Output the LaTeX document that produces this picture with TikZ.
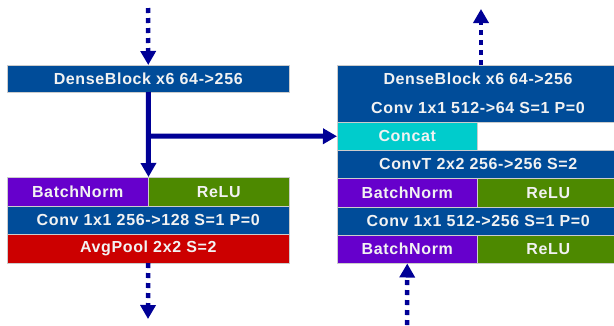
\documentclass[tikz,border=0pt]{standalone}
\usepackage{fontspec}
\setmainfont{Liberation Sans}[LetterSpace=4]
\usetikzlibrary{arrows.meta}
\definecolor{dblue}{RGB}{0,76,153}
\definecolor{purp}{RGB}{102,0,204}
\definecolor{grn}{RGB}{77,137,0}
\definecolor{rd}{RGB}{204,0,0}
\definecolor{cyn}{RGB}{0,204,204}
\definecolor{navy}{RGB}{0,0,150}
\definecolor{txt}{RGB}{242,242,242}
\tikzset{
  cellfont/.style={text=txt, font=\bfseries\fontsize{16}{18}\selectfont},
  cell/.style={rectangle, anchor=north west, inner sep=0pt, draw=black!20, line width=0.5pt, cellfont},
  solidarrow/.style={draw=navy, line width=5pt, -{Triangle[width=15pt,length=14pt]}},
  dotarrow/.style={draw=navy, line width=4.5pt, dash pattern=on 5pt off 5pt, -{Triangle[width=15pt,length=14pt]}},
}
\begin{document}
\begin{tikzpicture}[x=1pt,y=-1pt]
\useasboundingbox (0,0) rectangle (614,325);
\begin{scope}
\clip (0,0) rectangle (614,325);
% left column
\node[cell, fill=dblue, minimum width=282pt, minimum height=26.5pt] (dense1) at (7,65) {DenseBlock x6 64->256};
\node[cell, fill=purp, minimum width=141pt, minimum height=29pt] (bn1) at (7,177) {BatchNorm};
\node[cell, fill=grn, minimum width=141pt, minimum height=29pt] (relu1) at (148,177) {ReLU};
\node[cell, fill=dblue, minimum width=282pt, minimum height=28pt] (conv1) at (7,206) {Conv 1x1 256->128 S=1 P=0};
\node[cell, fill=rd, minimum width=282pt, minimum height=28.5pt] (pool1) at (7,234) {AvgPool 2x2 S=2};
% right column
\node[cell, fill=dblue, minimum width=282pt, minimum height=57pt] (rtop) at (337,65) {};
\node[cellfont, inner sep=0pt] (rdense) at (478,79) {DenseBlock x6 64->256};
\node[cellfont, inner sep=0pt] (rconv1) at (478,108) {Conv 1x1 512->64 S=1 P=0};
\node[cell, fill=cyn, minimum width=140pt, minimum height=28pt] (concat) at (337,122) {Concat};
\node[cell, fill=dblue, minimum width=282pt, minimum height=28pt] (convt) at (337,150) {ConvT 2x2 256->256 S=2};
\node[cell, fill=purp, minimum width=140pt, minimum height=29pt] (rbn1) at (337,178) {BatchNorm};
\node[cell, fill=grn, minimum width=142pt, minimum height=29pt] (rrelu1) at (477,178) {ReLU};
\node[cell, fill=dblue, minimum width=282pt, minimum height=28pt] (rconv2) at (337,207) {Conv 1x1 512->256 S=1 P=0};
\node[cell, fill=purp, minimum width=140pt, minimum height=28pt] (rbn2) at (337,235) {BatchNorm};
\node[cell, fill=grn, minimum width=142pt, minimum height=28pt] (rrelu2) at (477,235) {ReLU};
\end{scope}
% free ends
\coordinate (lin) at (148,8);
\coordinate (lout) at (148,319);
\coordinate (rout) at (481,9);
\coordinate (rin) at (407,325);
\coordinate (branch) at (148,136);
% connectors
\draw[dotarrow] (lin) -- (dense1.north);
\draw[dotarrow] (pool1.south) -- (lout);
\draw[solidarrow] (dense1.south) -- (bn1.north east);
\draw[solidarrow] (branch) -- (concat.west);
\draw[dotarrow] (rtop.north -| rout) -- (rout);
\draw[dotarrow] (rin) -- (rbn2.south);
\end{tikzpicture}
\end{document}
